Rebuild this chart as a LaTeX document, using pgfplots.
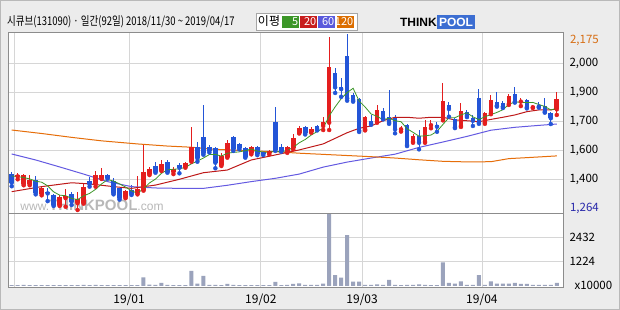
\documentclass[border=0pt]{standalone}
\usepackage{fontspec}
\setmainfont{Noto Sans CJK KR}
\newfontfamily\lsans{Liberation Sans}
\usepackage{pgfplots}
\usepackage{pgfplotstable}
\pgfplotsset{compat=1.18}

\definecolor{bg}{RGB}{236,236,236}
\definecolor{upred}{RGB}{228,30,30}
\definecolor{dnblue}{RGB}{35,85,215}
\definecolor{ma5c}{RGB}{60,150,40}
\definecolor{ma20c}{RGB}{190,25,25}
\definecolor{ma60c}{RGB}{100,90,225}
\definecolor{ma120c}{RGB}{230,110,10}
\definecolor{volc}{RGB}{155,163,188}
\definecolor{gridc}{RGB}{214,214,214}
\definecolor{framec}{RGB}{140,140,140}
\definecolor{orlab}{RGB}{215,110,20}
\definecolor{bllab}{RGB}{40,40,170}
\definecolor{lgreen}{RGB}{60,150,40}
\definecolor{lred}{RGB}{200,30,30}
\definecolor{lblue}{RGB}{90,90,220}
\definecolor{lorange}{RGB}{220,110,0}
\definecolor{poolblue}{RGB}{60,110,210}

\pgfplotstableread{
i o h l c
1 1438 1457 1423 1443
2 1397 1450 1392 1445
3 1398 1445 1392 1419
5 1347 1385 1340 1379
8 1290 1340 1285 1333
9 1325 1371 1281 1338
11 1299 1359 1264 1321
12 1302 1402 1297 1385
14 1399 1467 1385 1445
15 1428 1483 1425 1445
19 1330 1368 1325 1362
21 1350 1442 1345 1372
22 1369 1604 1364 1462
23 1450 1488 1445 1475
25 1471 1523 1466 1501
27 1462 1488 1450 1475
29 1488 1514 1483 1506
30 1519 1695 1514 1589
35 1497 1557 1492 1544
36 1540 1626 1535 1609
40 1557 1595 1552 1589
43 1557 1576 1552 1571
46 1566 1595 1560 1589
47 1583 1657 1578 1635
48 1664 1700 1660 1690
50 1669 1692 1664 1683
52 1699 1744 1678 1721
53 1716 2158 1678 2006
59 1682 1750 1676 1744
61 1721 1808 1716 1782
65 1682 1700 1670 1687
67 1618 1655 1612 1647
69 1618 1730 1612 1692
70 1703 1730 1687 1708
72 1733 1923 1728 1828
75 1699 1816 1694 1776
79 1716 1770 1710 1765
80 1765 1859 1760 1833
83 1813 1864 1808 1854
85 1825 1842 1802 1830
87 1796 1808 1792 1802
91 1785 1876 1756 1839
}\redtab

\pgfplotstableread{
i o h l c
0 1450 1462 1387 1406
4 1419 1442 1345 1354
6 1356 1380 1310 1350
7 1342 1347 1285 1290
10 1347 1357 1290 1307
13 1416 1436 1385 1399
16 1445 1452 1426 1431
17 1416 1428 1345 1350
18 1376 1380 1318 1325
20 1369 1393 1342 1347
24 1492 1510 1457 1462
26 1514 1523 1457 1462
28 1497 1506 1454 1483
31 1589 1618 1514 1532
32 1643 1808 1550 1557
33 1589 1600 1562 1571
34 1583 1592 1480 1509
37 1640 1645 1570 1578
38 1606 1612 1578 1583
39 1583 1592 1535 1540
41 1589 1595 1548 1554
42 1566 1571 1548 1554
44 1721 1796 1570 1575
45 1592 1604 1566 1571
49 1692 1700 1655 1661
51 1699 1706 1676 1682
54 1972 1997 1870 1899
55 1902 1946 1850 1890
56 2061 2175 1830 1842
57 1859 1870 1825 1833
58 1837 1845 1668 1675
60 1724 1756 1705 1713
62 1774 1790 1733 1739
63 1744 1885 1710 1716
64 1739 1756 1661 1682
66 1704 1710 1595 1600
68 1647 1678 1578 1612
71 1704 1721 1669 1695
73 1808 1825 1747 1787
74 1733 1740 1688 1692
76 1770 1782 1745 1751
77 1739 1756 1699 1726
78 1842 1889 1710 1716
81 1825 1876 1799 1804
82 1819 1828 1792 1799
84 1864 1902 1820 1825
86 1833 1840 1790 1796
88 1808 1825 1794 1799
89 1804 1842 1768 1773
90 1765 1773 1709 1739
}\bluetab

\pgfplotstableread{
i v
0 1440
1 1437
2 1432
3 1425
4 1413
5 1408
6 1389
7 1358
8 1341
9 1338
10 1324
11 1318
12 1337
13 1350
14 1371
15 1399
16 1421
17 1414
18 1399
19 1383
20 1363
21 1351
22 1374
23 1404
24 1424
25 1454
26 1472
27 1475
28 1477
29 1485
30 1503
31 1517
32 1533
33 1551
34 1552
35 1543
36 1558
37 1562
38 1565
39 1571
40 1580
41 1569
42 1564
43 1562
44 1569
45 1565
46 1572
47 1588
48 1612
49 1629
50 1652
51 1670
52 1687
53 1751
54 1798
55 1840
56 1872
57 1894
58 1828
59 1797
60 1761
61 1749
62 1731
63 1739
64 1726
65 1721
66 1685
67 1666
68 1646
69 1648
70 1652
71 1671
72 1707
73 1742
74 1742
75 1756
76 1767
77 1746
78 1732
79 1747
80 1758
81 1769
82 1783
83 1811
84 1823
85 1822
86 1820
87 1821
88 1810
89 1800
90 1782
91 1790
}\mafive

\pgfplotstableread{
i v
0 1359
5 1385
10 1405
13 1399
17 1385
20 1376
24 1393
28 1423
32 1457
36 1471
40 1523
44 1549
48 1575
52 1606
54 1635
56 1664
58 1687
60 1699
62 1726
64 1744
66 1744
68 1739
70 1744
72 1744
74 1730
76 1726
78 1721
80 1733
82 1744
84 1756
86 1773
88 1782
90 1782
91 1787
}\matwenty

\pgfplotstableread{
i v
0 1554
4 1523
8 1487
12 1450
16 1411
20 1385
24 1378
28 1376
32 1376
36 1392
40 1411
44 1428
48 1450
52 1486
56 1512
60 1533
64 1553
68 1588
72 1616
76 1645
80 1677
84 1692
88 1702
91 1709
}\masixty

\pgfplotstableread{
i v
0 1678
5 1660
10 1640
15 1622
21 1606
26 1595
30 1589
34 1578
40 1570
44 1566
48 1558
52 1552
56 1546
60 1540
64 1533
68 1524
72 1516
76 1513
80 1514
83 1530
86 1535
91 1544
}\maonetwenty

\pgfplotstableread{
i v
0 40
1 40
2 60
3 40
4 40
5 40
6 40
7 40
8 40
9 40
10 40
11 40
12 60
13 40
14 60
15 40
16 40
17 40
18 40
19 40
20 40
21 45
22 430
23 70
24 60
25 150
26 60
27 40
28 40
29 40
30 745
31 115
32 500
33 60
34 60
35 40
36 100
37 50
38 40
39 40
40 40
41 40
42 40
43 40
44 200
45 45
46 60
47 100
48 130
49 60
50 50
51 60
52 115
53 3570
54 545
55 410
56 2530
57 215
58 215
59 50
60 60
61 80
62 60
63 300
64 50
65 40
66 50
67 50
68 80
69 50
70 40
71 40
72 1175
73 150
74 115
75 230
76 60
77 60
78 545
79 50
80 230
81 115
82 115
83 115
84 150
85 100
86 100
87 60
88 50
89 60
90 60
91 150
}\voltab

\begin{document}
\begin{tikzpicture}[x=1pt,y=1pt]
\fill[bg] (0,0) rectangle (620,310);
\draw[gray!55] (0.5,0.5) rectangle (619.5,309.5);
\fill[white] (8,23) rectangle (563,278);

% title
\node[anchor=west, inner sep=0pt] at (7,288) {\fontsize{12}{14}\selectfont\scalebox{0.79}[1]{시큐브(131090) · 일간(92일) 2018/11/30 \textasciitilde{} 2019/04/17}};
% MA legend box
\draw[gray!70, fill=white] (256,280) rectangle (357,297);
\node[inner sep=0pt] at (269,288.5) {\fontsize{12}{14}\selectfont 이평};
\fill[lgreen] (282,282) rectangle (299,294);
\fill[lred] (300,282) rectangle (317,294);
\fill[lblue] (318,282) rectangle (335,294);
\fill[lorange] (337,282) rectangle (354,294);
\node[anchor=east, text=white, inner sep=0.5pt] at (299,288) {\fontsize{11}{12}\selectfont 5};
\node[anchor=east, text=white, inner sep=0.5pt] at (317,288) {\fontsize{11}{12}\selectfont 20};
\node[anchor=east, text=white, inner sep=0.5pt] at (335,288) {\fontsize{11}{12}\selectfont 60};
\node[anchor=east, text=white, inner sep=0.5pt] at (354,288) {\fontsize{11}{12}\selectfont 120};
% logo
\node[anchor=east, inner sep=0pt] at (437,288) {\lsans\bfseries\fontsize{12}{12}\selectfont THINK};
\fill[poolblue] (437,281) rectangle (475,295);
\node[inner sep=0pt, text=white] at (456,288) {\lsans\bfseries\fontsize{12}{12}\selectfont POOL};
% watermark
\node[inner sep=0pt, text=black!28] at (92,105) {\lsans\fontsize{12}{12}\selectfont www.{\bfseries\fontsize{15}{15}\selectfont THINKPOOL}.com};

\begin{axis}[
  at={(8pt,97pt)}, anchor=south west,
  width=555pt, height=181pt, scale only axis,
  xmin=-0.62, xmax=92.04, ymin=1248.5, ymax=2185.4,
  axis line style={framec},
  xtick={0.4,19.6,41.6,58.5,78.5}, xticklabels={},
  ytick={1424.5,1574.6,1724.7,1875,2025},
  yticklabels={{1,400},{1,600},{1,700},{1,900},{2,000}},
  yticklabel pos=right,
  yticklabel style={xshift=3pt, font=\fontsize{11.5}{12}\selectfont},
  grid=major, major grid style={gridc, line width=0.8pt},
  major tick length=0pt,
]
\addplot[upred, only marks, mark=none, error bars/.cd, y dir=plus, y explicit, error mark=none, error bar style={upred, line width=1pt}]
  table[x=i, y=l, y error plus expr=\thisrow{h}-\thisrow{l}] {\redtab};
\addplot[dnblue, only marks, mark=none, error bars/.cd, y dir=plus, y explicit, error mark=none, error bar style={dnblue, line width=1pt}]
  table[x=i, y=l, y error plus expr=\thisrow{h}-\thisrow{l}] {\bluetab};
\addplot[ma60c, line width=1pt] table[x=i, y=v] {\masixty};
\addplot[ma120c, line width=1pt] table[x=i, y=v] {\maonetwenty};
\addplot[ma20c, line width=1pt] table[x=i, y=v] {\matwenty};
\addplot[upred, only marks, mark=none, error bars/.cd, y dir=plus, y explicit, error mark=none, error bar style={upred, line width=4.6pt}]
  table[x=i, y=o, y error plus expr=\thisrow{c}-\thisrow{o}] {\redtab};
\addplot[dnblue, only marks, mark=none, error bars/.cd, y dir=plus, y explicit, error mark=none, error bar style={dnblue, line width=4.6pt}]
  table[x=i, y=c, y error plus expr=\thisrow{o}-\thisrow{c}] {\bluetab};
\addplot[ma5c, line width=0.8pt] table[x=i, y=v] {\mafive};
\end{axis}

\node[anchor=west, text=orlab] at (566.5,270) {\fontsize{11.5}{12}\selectfont 2,175};
\node[anchor=west, text=bllab] at (566.5,102) {\fontsize{11.5}{12}\selectfont 1,264};

\begin{axis}[
  at={(8pt,23pt)}, anchor=south west,
  width=555pt, height=74pt, scale only axis,
  xmin=-0.62, xmax=92.04, ymin=-49.6, ymax=3623,
  axis line style={framec},
  xtick={0.4,19.6,41.6,58.5,78.5}, xticklabels={,19/01,19/02,19/03,19/04},
  xticklabel style={yshift=-3pt, font=\fontsize{12}{12}\selectfont},
  ytick={1224,2432}, yticklabels={1224,2432},
  yticklabel pos=right,
  yticklabel style={xshift=3pt, font=\fontsize{11.5}{12}\selectfont},
  grid=major, major grid style={gridc, line width=0.8pt},
  major tick length=0pt,
]
\addplot[ybar, bar width=4pt, fill=volc, draw=none] table[x=i, y=v] {\voltab};
\end{axis}
\node[anchor=west] at (571,25) {\fontsize{11.5}{12}\selectfont x10000};
\end{tikzpicture}
\end{document}
